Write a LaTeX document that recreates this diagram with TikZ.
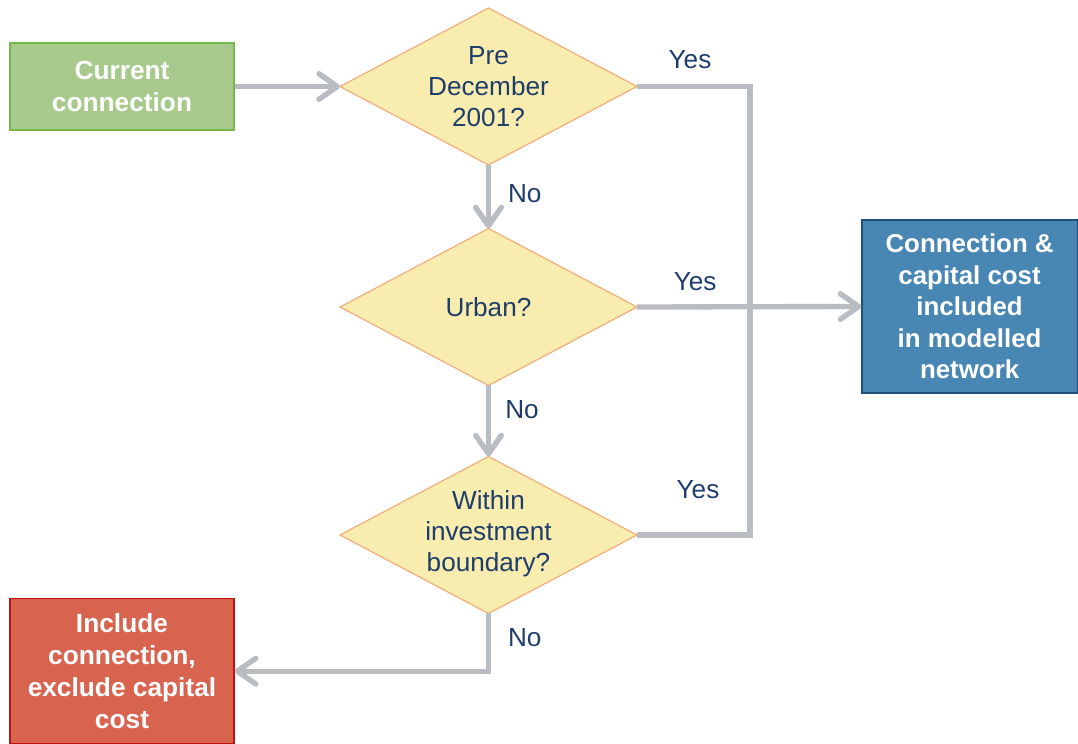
\documentclass[tikz,border=0pt]{standalone}
\usepackage{fontspec}
\setmainfont{Liberation Sans}
\usetikzlibrary{arrows.meta}

\definecolor{linegray}{HTML}{B9BCC0}
\definecolor{qblue}{HTML}{1F3D6B}
\definecolor{qfill}{HTML}{F8EDAE}
\definecolor{qedge}{HTML}{F2B07E}
\definecolor{gfill}{HTML}{A7CA8C}
\definecolor{gedge}{HTML}{74B84A}
\definecolor{bfill}{HTML}{4886B3}
\definecolor{bedge}{HTML}{1F4E79}
\definecolor{rfill}{HTML}{D8644F}
\definecolor{redge}{HTML}{C0100E}

\tikzset{
  box/.style={draw, line width=0.9pt, inner sep=0pt, align=center,
    text=white, font=\fontsize{18.7}{22.6}\selectfont\bfseries},
  decision/.style={draw=qedge, fill=qfill, line width=0.9pt},
  qtext/.style={align=center, text=qblue, font=\fontsize{18.6}{22}\selectfont},
  answer/.style={text=qblue, font=\fontsize{18.6}{22}\selectfont},
  conn/.style={draw=linegray, line width=3.8pt},
  flow/.style={conn, -{Straight Barb[length=0.46cm, width=0.64cm, line width=3.8pt, round]}}
}

\begin{document}
\begin{tikzpicture}
\useasboundingbox (0,0) rectangle (26.95,-18.6);

% boxes
\node[box, fill=gfill, draw=gedge, minimum width=5.6cm, minimum height=2.175cm]
  (cur) at (3.05,-2.1625) {Current\\connection};
\node[box, fill=bfill, draw=bedge, minimum width=5.38cm, minimum height=4.325cm,
  font=\fontsize{18.4}{22.4}\selectfont\bfseries]
  (incl) at (24.24,-7.6625) {Connection \&\\capital cost\\included\\in modelled\\network};
\node[box, fill=rfill, draw=redge, minimum width=5.6cm, minimum height=3.62cm]
  (excl) at (3.05,-16.78) {Include\\connection,\\exclude capital\\cost};

% decisions
\coordinate (pre) at (12.2125,-2.1625);
\coordinate (urb) at (12.2125,-7.675);
\coordinate (win) at (12.2125,-13.375);
\foreach \d in {pre,urb,win}{
  \draw[decision] ([xshift=-3.7125cm]\d) coordinate (\d-w)
    -- ([yshift=1.9625cm]\d) coordinate (\d-n)
    -- ([xshift=3.7125cm]\d) coordinate (\d-e)
    -- ([yshift=-1.9625cm]\d) coordinate (\d-s) -- cycle;
}
\node[qtext] (preq) at (pre) {Pre\\December\\2001?};
\node[qtext] (urbq) at (urb) {Urban?};
\node[qtext] (winq) at ([yshift=0.03cm]win) {Within\\investment\\boundary?};

% connectors
\coordinate (bus) at (18.75,0);
\draw[flow] (cur.east) -- (pre-w);
\draw[flow] (pre-s) -- (urb-n);
\draw[flow] (urb-s) -- (win-n);
\draw[conn] (pre-e) -- (pre-e -| bus) -- (win-e -| bus) -- (win-e);
\draw[flow] (urb-e) -- (incl.west);
\draw[flow] (win-s) |- (excl.east);

% answers
\node[answer] (yes1) at (17.25,-1.5) {Yes};
\node[answer] (yes2) at (17.38,-7.05) {Yes};
\node[answer] (yes3) at (17.45,-12.25) {Yes};
\node[answer] (no1) at (13.12,-4.83) {No};
\node[answer] (no2) at (13.05,-10.25) {No};
\node[answer] (no3) at (13.12,-15.95) {No};
\end{tikzpicture}
\end{document}
